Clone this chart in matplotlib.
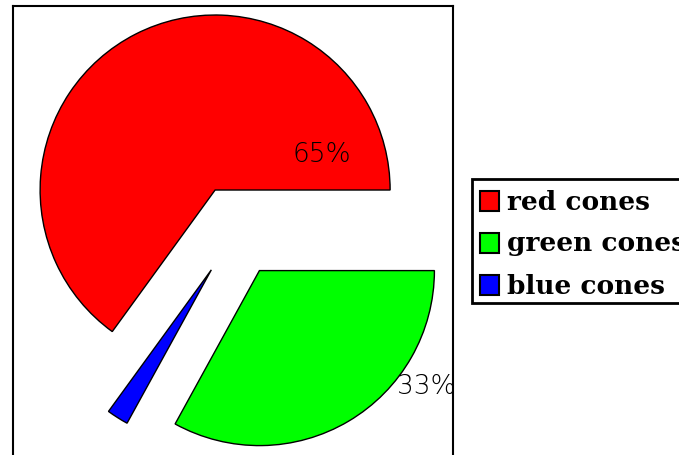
import numpy as np
import matplotlib
matplotlib.use("Agg")
import matplotlib.pyplot as plt
from matplotlib.patches import Rectangle

# cone share data
labels = ["red cones", "green cones", "blue cones"]
shares = [65, 33, 2]
colors = ["#ff0000", "#00ff00", "#0000ff"]

# order drawn counter-clockwise from 3 o'clock: red, blue, green
order = [0, 2, 1]

W, H = 679, 455
fig = plt.figure(figsize=(W / 100, H / 100), dpi=100)

# axes in pixel units (y up), frame drawn as the spines
left, right, top = 13, 453, 6
ax = fig.add_axes([left / W, -6 / H, (right - left) / W, (H - top + 6) / H])

radius = 175
wedges, _ = ax.pie([shares[i] for i in order],
                   colors=[colors[i] for i in order],
                   startangle=0, counterclock=True,
                   explode=[46] * 3, radius=radius,
                   center=(236, H - 231), frame=True,
                   wedgeprops=dict(edgecolor="black", linewidth=1.0))
ax.set_xlim(left, right)
ax.set_ylim(-6, H - top)
ax.set_aspect("auto")
ax.set_xticks([])
ax.set_yticks([])
for s in ax.spines.values():
    s.set_visible(True)
    s.set_linewidth(1.5)
    s.set_color("black")

# percent labels (the tiny blue slice is left unlabelled)
pct_pos = {0: (322, H - 154), 1: (426, H - 386)}
for i, (x, y) in pct_pos.items():
    ax.text(x, y, f"{shares[i]}%", ha="center", va="center",
            fontsize=19, color="black", fontfamily="DejaVu Sans",
            fontweight="light", clip_on=True)

# legend box, running off the right edge
lx0, ly0 = 472, 179
lax = fig.add_axes([0, 0, 1, 1], facecolor="none")
lax.set_xlim(0, W)
lax.set_ylim(H, 0)
lax.axis("off")
lax.add_patch(Rectangle((lx0, ly0), W + 20 - lx0, 124, facecolor="white",
                        edgecolor="black", linewidth=2))
for k, i in enumerate([0, 1, 2]):
    cy = 201 + k * 42
    lax.add_patch(Rectangle((480, cy - 10), 19, 20, facecolor=colors[i],
                            edgecolor="black", linewidth=1.5))
    lax.text(507, cy + 1, labels[i], ha="left", va="center",
             fontsize=19, fontweight="heavy", fontfamily="DejaVu Serif")

fig.savefig("out.png", dpi=100)
